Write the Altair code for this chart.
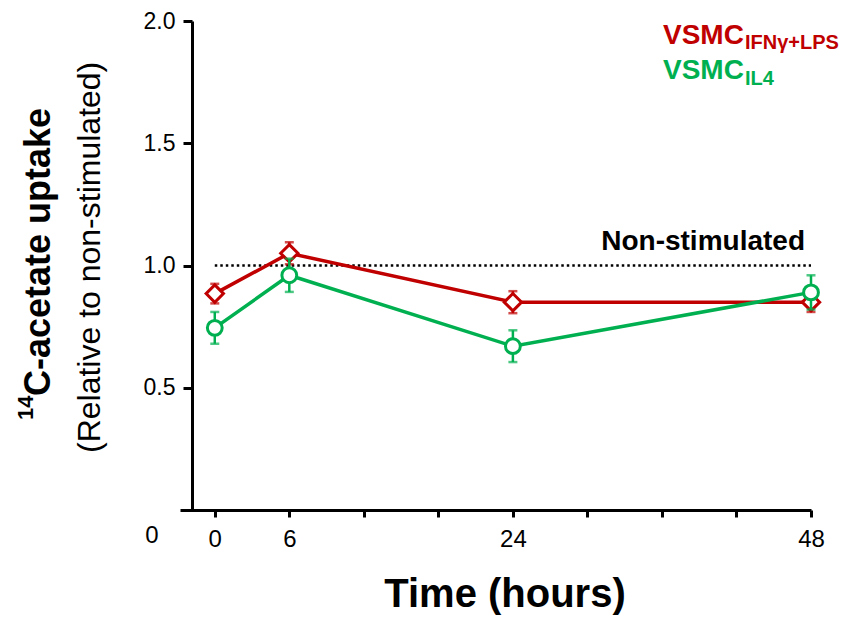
import altair as alt
import pandas as pd

# ---- data ----
time_hours = [0, 6, 24, 48]
ifn_mean = [0.885, 1.05, 0.85, 0.85]
ifn_err = [0.04, 0.045, 0.045, 0.04]
il4_mean = [0.745, 0.96, 0.67, 0.89]
il4_err = [0.065, 0.068, 0.065, 0.07]

x_ticks = [0, 6, 12, 18, 24, 30, 36, 42, 48]
x_labelled = [0, 6, 24, 48]
y_ticks = [0.5, 1.0, 1.5, 2.0]
baseline_value = [1.0]
baseline_span = [0, 48]

series_names = ["VSMC_IFN", "VSMC_IL4"]
series_shapes = ["diamond", "circle"]
RED = "#C00000"
GREEN = "#00B050"
series_colors = [RED, GREEN]

FONT = "Liberation Sans"

x_scale = alt.Scale(domain=[-2.8, 48], nice=False, zero=False)
y_scale = alt.Scale(domain=[0, 2], nice=False, zero=False)


def series_layers(means, errs, color, shape, size):
    df = pd.DataFrame({
        "t": time_hours,
        "m": means,
        "lo": [m - e for m, e in zip(means, errs)],
        "hi": [m + e for m, e in zip(means, errs)],
    })
    base = alt.Chart(df)
    x = alt.X("t:Q", scale=x_scale)
    line = base.mark_line(color=color, strokeWidth=3.5).encode(x=x, y=alt.Y("m:Q", scale=y_scale))
    rule = base.mark_rule(color=color, strokeWidth=2.5).encode(
        x=x, y=alt.Y("lo:Q", scale=y_scale), y2="hi:Q")
    cap_top = base.mark_tick(color=color, orient="horizontal", size=9, thickness=2.5).encode(
        x=x, y=alt.Y("hi:Q", scale=y_scale))
    cap_bot = base.mark_tick(color=color, orient="horizontal", size=9, thickness=2.5).encode(
        x=x, y=alt.Y("lo:Q", scale=y_scale))
    pts = base.mark_point(shape=shape, size=size, filled=True, fill="white", stroke=color,
                          strokeWidth=3, opacity=1).encode(x=x, y=alt.Y("m:Q", scale=y_scale))
    return [line, rule, cap_top, cap_bot, pts]


axis_df = pd.DataFrame({"t": [0], "m": [1.0]})
axes = alt.Chart(axis_df).mark_point(opacity=0).encode(
    x=alt.X("t:Q", scale=x_scale, title=None,
            axis=alt.Axis(values=x_ticks,
                          labelExpr="indexof([0,6,24,48], datum.value) >= 0 ? datum.label : ''",
                          grid=False, tickSize=7, tickWidth=3, domainWidth=3,
                          domainColor="black", tickColor="black", labelColor="black",
                          labelFont=FONT, labelFontSize=24, labelPadding=10,
                          labelFlush=False, labelOverlap=False)),
    y=alt.Y("m:Q", scale=y_scale, title=None,
            axis=alt.Axis(values=y_ticks, format=".1f", offset=-12,
                          grid=False, tickSize=9, tickWidth=3, domainWidth=3,
                          domainColor="black", tickColor="black", labelColor="black",
                          labelFont=FONT, labelFontSize=23, labelPadding=8,
                          labelFlush=False, labelOverlap=False)),
)

ref_df = pd.DataFrame({"x0": [baseline_span[0]], "x1": [baseline_span[1]], "y": baseline_value})
ref_line = alt.Chart(ref_df).mark_rule(color="black", strokeWidth=2.5, strokeDash=[2.5, 3]).encode(
    x=alt.X("x0:Q", scale=x_scale), x2="x1:Q", y=alt.Y("y:Q", scale=y_scale))

one = pd.DataFrame({"a": [0]})


def txt(s, x, y, size, color="black", bold=True, align="left", baseline="alphabetic", angle=0):
    kw = dict(font=FONT, fontSize=size, color=color, fontWeight="bold" if bold else "normal",
              align=align, baseline=baseline)
    if angle:
        kw["angle"] = angle
    return alt.Chart(one).mark_text(**kw).encode(
        x=alt.value(x), y=alt.value(y), text=alt.value(s))


# positions below are relative to the plot origin (page x=180, y=21)
texts = [
    txt("Non-stimulated", 625, 229, 28, align="right"),
    txt("VSMC", 483, 23, 28, color=RED),
    txt("IFNγ+LPS", 565, 28, 20, color=RED),
    txt("VSMC", 483, 58, 28, color=GREEN),
    txt("IL4", 565, 64, 20, color=GREEN),
    txt("0", -28, 515, 24, bold=False, align="center", baseline="middle"),
    txt("Time (hours)", 325, 586, 40, align="center"),
    txt("14", -147, 399, 22, angle=270),
    txt("C-acetate uptake", -130, 375, 36, angle=270),
    txt("(Relative to non-stimulated)", -80, 432, 32, bold=False, angle=270),
]

layers = [axes, ref_line]
layers += series_layers(ifn_mean, ifn_err, RED, "diamond", 300)
layers += series_layers(il4_mean, il4_err, GREEN, "circle", 220)
layers += texts

chart = alt.layer(*layers).properties(
    width=631, height=489,
    autosize=alt.AutoSizeParams(type="none"),
    padding={"left": 172, "top": 13, "right": 29, "bottom": 106},
    background="white",
).configure_view(stroke=None)

chart.save("out.html", embed_options={"renderer": "svg", "actions": False})
